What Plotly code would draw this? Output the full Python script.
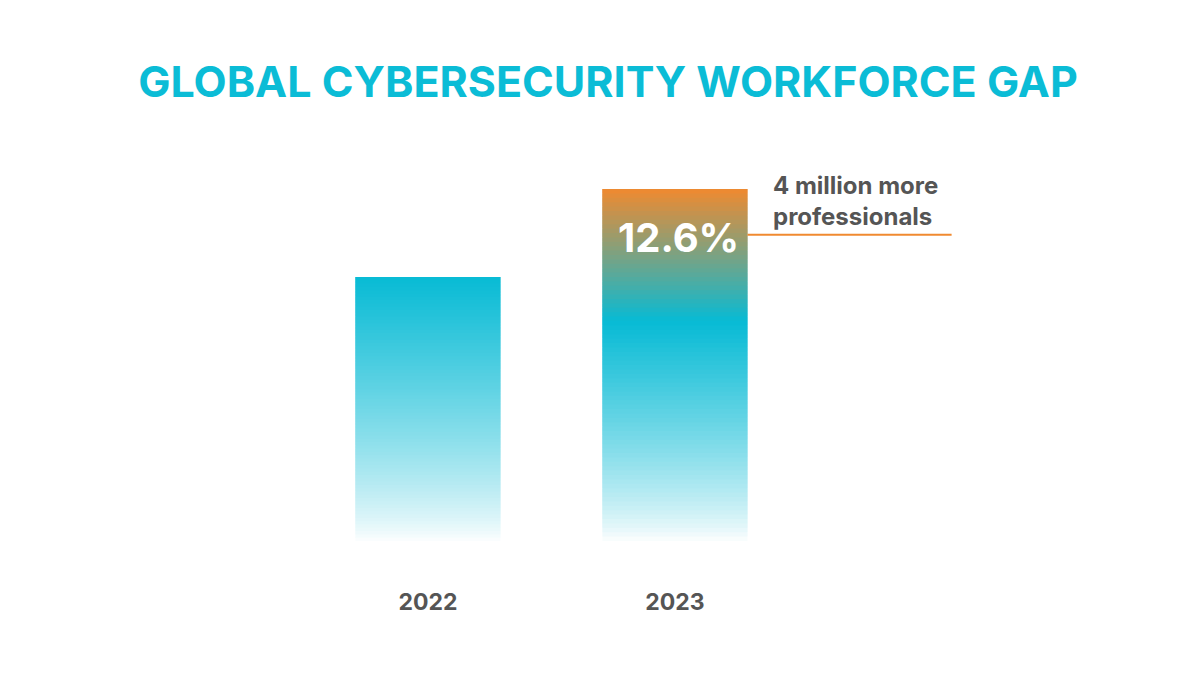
import plotly.graph_objects as go
import numpy as np

years = ["2022", "2023"]
gap_values = [3.0, 4.0]          # relative bar heights
growth_label = "12.6%"
note = "4 million more<br>professionals"

CYAN = np.array([8, 187, 213])
ORANGE = np.array([240, 138, 48])
WHITE = np.array([255, 255, 255])

def mix(a, b, t):
    t = min(max(t, 0), 1)
    c = a + (b - a) * t
    return "rgb(%d,%d,%d)" % tuple(c)

N = 80
xs, ys, bases, cols = [], [], [], []
for i, (yr, v) in enumerate(zip(years, gap_values)):
    h = v / N
    for k in range(N):
        mid = (k + 0.5) * h
        if i == 0:
            c = mix(WHITE, CYAN, (mid / v) ** 0.8)
        else:
            split = 2.5
            if mid < split:
                c = mix(WHITE, CYAN, (mid / split) ** 0.8)
            else:
                c = mix(CYAN, ORANGE, (mid - split) / (v - split))
        top = min((k + 2) * h, v)
        xs.append(i); ys.append(top - k * h); bases.append(k * h); cols.append(c)

fig = go.Figure(go.Bar(x=xs, y=ys, base=bases, width=0.587,
                       marker=dict(color=cols, line=dict(width=0)),
                       hoverinfo="skip"))

fig.add_annotation(x=1, y=3.45, text="<b>" + growth_label + "</b>", showarrow=False,
                   font=dict(size=40, color="white", family="Inter"), xshift=4)
fig.add_annotation(x=1.39, y=3.86, text="<b>" + note + "</b>", showarrow=False,
                   xanchor="left", align="left",
                   font=dict(size=24, color="#555555", family="Inter"))
fig.add_shape(type="line", x0=1.2935, x1=2.12, y0=3.48, y1=3.48,
              line=dict(color="#F08A30", width=2))

fig.update_layout(
    width=1200, height=700, plot_bgcolor="white", paper_bgcolor="white",
    barmode="overlay", showlegend=False,
    margin=dict(l=0, r=0, t=93, b=167),
    title=dict(text="<b>GLOBAL CYBERSECURITY WORKFORCE GAP</b>", x=0.5, y=0.895,
               xanchor="center", yanchor="middle",
               font=dict(size=43, color="#0BBCD6", family="Inter")),
    xaxis=dict(range=[-1.70, 3.158], tickvals=[0, 1],
               ticktext=["<b>%s</b>" % y for y in years],
               tickfont=dict(size=23, color="#555555", family="Inter"),
               showgrid=False, zeroline=False, showline=False, ticks="",
               ticklabelstandoff=45),
    yaxis=dict(range=[0, 5], visible=False),
)
fig.write_html("out.html")
